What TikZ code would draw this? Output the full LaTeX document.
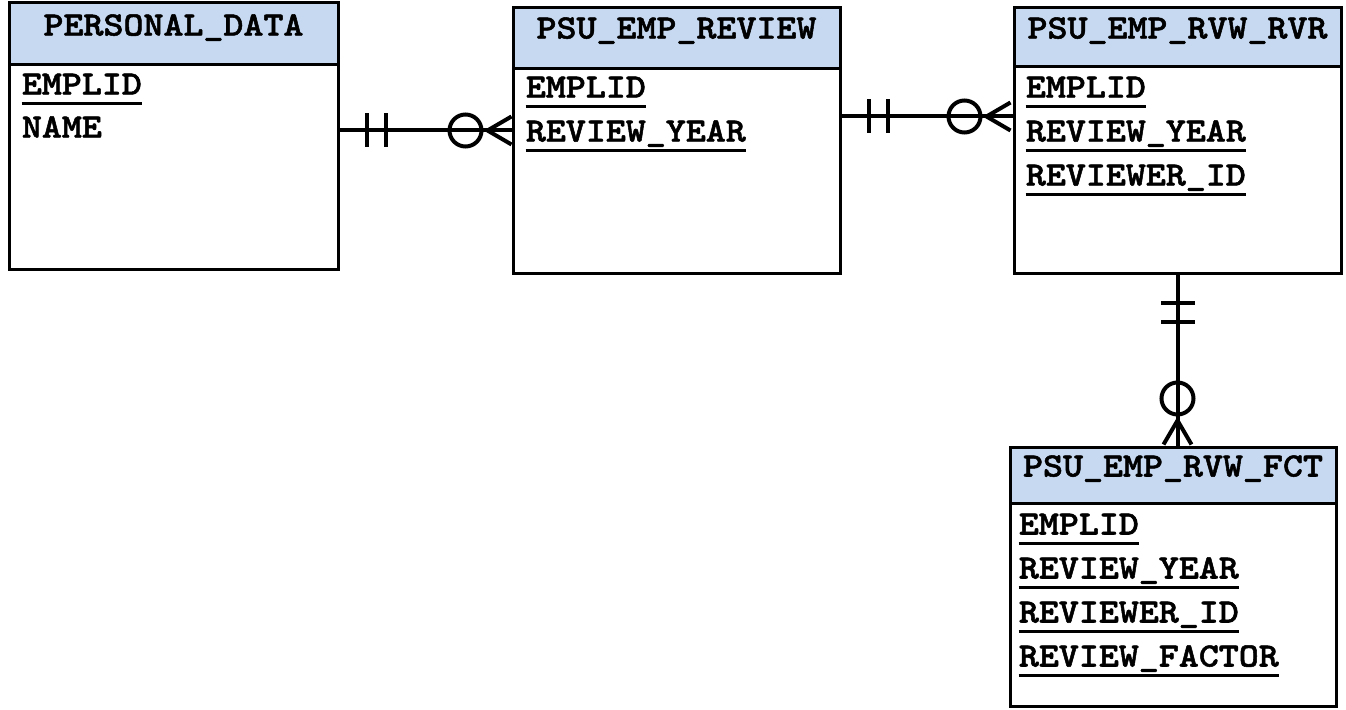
\documentclass[tikz,border=0pt]{standalone}
\usepackage{fontspec}
\usepackage{tikz}
\usetikzlibrary{calc,fit}
\newfontfamily\ermono{lmmonolt10-bold.otf}[FakeStretch=1.12, FakeBold=1.5]
\definecolor{hdrblue}{RGB}{198,217,240}
\tikzstyle{entity}=[draw, line width=1.5pt, inner sep=0pt, fill=white]
\tikzstyle{head}  =[entity, fill=hdrblue]
\tikzstyle{etitle}=[anchor=base, inner sep=0pt,
                    font=\ermono\fontsize{17}{20}\selectfont]
\tikzstyle{field} =[etitle, anchor=base west]
\tikzstyle{uline} =[line width=1.5pt]
\tikzstyle{rel}   =[line width=2pt]
\tikzset{
  bars/.pic={\draw[rel] (-9.5,-17) -- (-9.5,17) (9.5,-17) -- (9.5,17);},
  crow/.pic={\draw[rel] (0,0) circle (16);
             \draw[rel] (22,0) -- (46,-14) (22,0) -- (46,14);}
}

\begin{document}
\begin{tikzpicture}[x=0.5pt, y=-0.5pt]
  \useasboundingbox (0,0) rectangle (1346,710);
  % tables
  \node[entity, fit={(9,3) (338,270)}] (pd) {};
  \node[head, fit={(9,3) (338,65)}] (pdh) {};
  \node[entity, fit={(513,8) (840,274)}] (rev) {};
  \node[head, fit={(513,8) (840,69)}] (revh) {};
  \node[entity, fit={(1014,8) (1341,274)}] (rvr) {};
  \node[head, fit={(1014,8) (1341,67)}] (rvrh) {};
  \node[entity, fit={(1010,448) (1336,707)}] (fct) {};
  \node[head, fit={(1010,448) (1336,504)}] (fcth) {};
  % titles
  \node[etitle] (pdt) at ($(pdh.north)+(0,34)$) {PERSONAL\_DATA};
  \node[etitle] (revt) at ($(revh.north)+(0,32)$) {PSU\_EMP\_REVIEW};
  \node[etitle] (rvrt) at ($(rvrh.north)+(0,32)$) {PSU\_EMP\_RVW\_RVR};
  \node[etitle] (fctt) at ($(fcth.north)+(0,30)$) {PSU\_EMP\_RVW\_FCT};
  % fields
  \node[field] (pde) at ($(pd.north west)+(14,93)$) {EMPLID};
  \draw[uline] ($(pde.base west)+(0,9)$) -- ($(pde.base east)+(0,9)$);
  \node[field] (pdn) at ($(pd.north west)+(14,136)$) {NAME};
  \foreach \f [count=\i] in {EMPLID,REVIEW\_YEAR}
  {
    \node[field] (rev\i) at ($(rev.north west)+(14,47+44*\i)$) {\f};
    \draw[uline] ($(rev\i.base west)+(0,9)$) -- ($(rev\i.base east)+(0,9)$);
  }
  \foreach \f [count=\i] in {EMPLID,REVIEW\_YEAR,REVIEWER\_ID}
  {
    \node[field] (rvr\i) at ($(rvr.north west)+(13,47+44*\i)$) {\f};
    \draw[uline] ($(rvr\i.base west)+(0,9)$) -- ($(rvr\i.base east)+(0,9)$);
  }
  \foreach \f [count=\i] in {EMPLID,REVIEW\_YEAR,REVIEWER\_ID,REVIEW\_FACTOR}
  {
    \node[field] (fct\i) at ($(fct.north west)+(10,44+44*\i)$) {\f};
    \draw[uline] ($(fct\i.base west)+(0,9)$) -- ($(fct\i.base east)+(0,9)$);
  }
  % relationships
  \draw[rel] ($(pd.north east)+(0,129)$) coordinate (a1)
          -- ($(rev.north west)+(0,124)$) coordinate (b1);
  \pic at ($(a1)+(37,0)$) {bars};
  \pic at ($(b1)+(-46,0)$) {crow};
  \draw[rel] ($(rev.north east)+(0,110)$) coordinate (a2)
          -- ($(rvr.north west)+(0,110)$) coordinate (b2);
  \pic at ($(a2)+(37,0)$) {bars};
  \pic at ($(b2)+(-48,0)$) {crow};
  \draw[rel] (rvr.south) coordinate (a3) -- (rvr.south |- fct.north) coordinate (b3);
  \pic[rotate=-90] at ($(a3)+(0,37)$) {bars};
  \pic[rotate=-90] at ($(b3)+(0,-48)$) {crow};
\end{tikzpicture}
\end{document}
